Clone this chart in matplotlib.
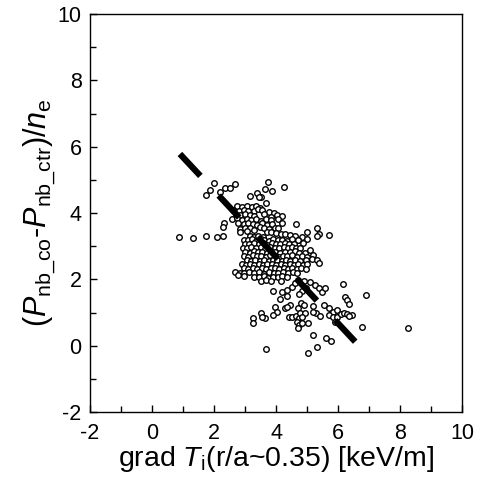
import matplotlib
matplotlib.use("Agg")
import matplotlib.pyplot as plt

plt.rcParams["font.family"] = ["Liberation Sans", "DejaVu Sans"]
plt.rcParams["mathtext.fontset"] = "custom"
plt.rcParams["mathtext.rm"] = "Liberation Sans"
plt.rcParams["mathtext.it"] = "Liberation Sans:italic"
plt.rcParams["axes.unicode_minus"] = False

# sparse points, upper part of the cloud
upper_x = [1.74, 1.87, 2.01, 2.19, 2.35, 2.52, 2.66, 3.16, 3.38, 3.51, 3.65, 3.75, 3.86, 4.24,
           0.87, 1.33, 1.73, 2.09, 2.28, 2.33, 2.30, 3.68, 3.45]
upper_y = [4.54, 4.69, 4.91, 4.64, 4.76, 4.76, 4.87, 4.51, 4.59, 4.49, 4.71, 4.94, 4.67, 4.79,
           3.29, 3.26, 3.32, 3.29, 3.31, 3.69, 3.57, 4.31, 4.47]

# band along the fit line, y ~ 3.4 - 4.2
band_x = [2.75, 2.90, 3.05, 3.22, 3.35, 3.48,
          2.62, 2.82, 2.96, 3.10, 3.28, 3.42, 3.55, 3.78, 3.92,
          2.70, 2.85, 3.00, 3.15, 3.30, 3.62, 3.85, 4.02, 4.18,
          2.57, 2.73, 2.90, 3.05, 3.20, 3.36, 3.50, 3.68, 3.82, 4.07,
          2.78, 2.95, 3.10, 3.25, 3.40, 3.55, 3.70, 3.88, 4.18, 4.63,
          2.84, 3.00, 3.15, 3.30, 3.48, 3.62, 3.78, 3.95, 4.07, 5.31,
          2.84, 3.05, 3.70, 3.85, 4.00, 4.15, 4.30, 4.99, 4.83, 5.37, 5.33, 5.72]
band_y = [4.20, 4.18, 4.21, 4.17, 4.20, 4.15,
          4.09, 4.06, 4.10, 4.07, 4.05, 4.11, 4.08, 4.04, 4.00,
          3.95, 3.93, 3.97, 3.94, 3.92, 3.96, 3.88, 3.93, 3.91,
          3.82, 3.84, 3.80, 3.83, 3.79, 3.82, 3.76, 3.81, 3.78, 3.81,
          3.70, 3.66, 3.69, 3.67, 3.65, 3.70, 3.64, 3.68, 3.69, 3.66,
          3.52, 3.56, 3.54, 3.50, 3.59, 3.55, 3.52, 3.56, 3.54, 3.54,
          3.44, 3.45, 3.44, 3.42, 3.40, 3.38, 3.36, 3.44, 3.29, 3.37, 3.31, 3.34]

# dense core, y ~ 2.0 - 3.3
core_x = [3.15, 3.30, 3.42, 3.58, 4.45, 4.60, 4.72, 4.99,
          2.95, 3.08, 3.22, 3.36, 3.50, 3.62, 3.76, 3.90, 4.05, 4.20, 4.35, 4.50, 4.72,
          3.00, 3.14, 3.30, 3.44, 3.58, 3.72, 3.86, 4.00, 4.14, 4.30, 4.42, 4.58, 4.88,
          2.92, 3.06, 3.20, 3.35, 3.50, 3.65, 3.80, 3.95, 4.10, 4.25, 4.38, 4.52, 4.65, 4.77,
          3.00, 3.15, 3.28, 3.42, 3.56, 3.70, 3.84, 3.98, 4.12, 4.28, 4.44, 4.60, 4.75, 4.94, 5.10,
          2.95, 3.10, 3.24, 3.38, 3.52, 3.66, 3.80, 3.95, 4.08, 4.22, 4.36, 4.50, 4.66, 4.82, 5.00, 5.20,
          3.05, 3.20, 3.33, 3.48, 3.62, 3.76, 3.90, 4.04, 4.18, 4.32, 4.46, 4.62, 4.78, 4.95, 5.15, 5.31,
          2.90, 3.02, 3.16, 3.30, 3.45, 3.58, 3.72, 3.86, 4.00, 4.15, 4.30, 4.44, 4.58, 4.72, 4.86, 5.00, 5.37,
          2.95, 3.10, 3.25, 3.40, 3.54, 3.68, 3.82, 3.96, 4.10, 4.24, 4.38, 4.52, 4.66, 4.80, 4.95,
          2.68, 2.84, 2.98, 3.14, 3.30, 3.46, 3.62, 3.78, 3.92, 4.06, 4.22, 4.38, 4.54, 4.68,
          2.78, 2.96, 3.30, 3.45, 3.60, 3.74, 3.90, 4.05, 4.20, 4.35,
          3.50, 3.68, 3.85, 4.16, 4.72]
core_y = [3.30, 3.27, 3.32, 3.28, 3.34, 3.30, 3.19, 3.23,
          3.20, 3.18, 3.22, 3.17, 3.21, 3.19, 3.16, 3.22, 3.18, 3.20, 3.17, 3.21, 3.19,
          3.08, 3.06, 3.10, 3.07, 3.09, 3.05, 3.10, 3.08, 3.06, 3.09, 3.07, 3.08, 3.09,
          2.95, 2.93, 2.97, 2.94, 2.96, 2.92, 2.97, 2.95, 2.93, 2.96, 2.94, 2.97, 2.95, 2.93,
          2.82, 2.80, 2.84, 2.81, 2.83, 2.79, 2.84, 2.82, 2.80, 2.83, 2.81, 2.84, 2.80, 2.78, 2.88,
          2.70, 2.68, 2.72, 2.69, 2.71, 2.67, 2.72, 2.70, 2.68, 2.71, 2.69, 2.72, 2.68, 2.70, 2.66, 2.72,
          2.57, 2.55, 2.59, 2.56, 2.58, 2.54, 2.59, 2.57, 2.55, 2.58, 2.56, 2.59, 2.55, 2.57, 2.60, 2.58,
          2.45, 2.43, 2.47, 2.44, 2.46, 2.42, 2.47, 2.45, 2.43, 2.46, 2.44, 2.47, 2.43, 2.45, 2.42, 2.46, 2.48,
          2.33, 2.31, 2.35, 2.32, 2.34, 2.30, 2.35, 2.33, 2.31, 2.34, 2.32, 2.35, 2.31, 2.33, 2.30,
          2.23, 2.20, 2.18, 2.22, 2.19, 2.21, 2.17, 2.22, 2.20, 2.18, 2.21, 2.19, 2.22, 2.18,
          2.12, 2.10, 2.08, 2.06, 2.09, 2.05, 2.08, 2.06, 2.09, 2.07,
          1.96, 1.98, 1.95, 1.96, 1.98]

# sparse points, lower right part
lower_x = [3.91, 4.18, 4.34, 4.50, 4.34, 4.13, 4.29, 4.45, 3.97, 4.02, 3.91,
           3.27, 3.27, 3.52, 3.65, 3.54,
           4.40, 4.50, 4.65, 4.75, 4.68, 4.75, 4.85, 4.72,
           4.34, 4.72, 4.77, 4.94, 4.83, 4.80, 4.90,
           5.04, 5.18, 5.61, 5.76, 5.31, 5.04, 3.67,
           5.20, 5.30, 5.40, 5.53, 5.69, 5.85, 5.95, 5.69, 5.85, 5.95, 5.90,
           6.10, 6.20, 6.30, 6.45, 6.35,
           6.17, 6.90, 6.23, 6.28, 6.36, 6.76, 8.24,
           5.10, 5.26, 5.37, 5.47, 5.58, 5.20,
           4.85, 4.95, 4.75, 4.60, 4.90]
lower_y = [1.65, 1.63, 1.68, 1.78, 1.50, 1.40, 1.14, 1.22, 1.17, 1.02, 0.92,
           0.82, 0.67, 0.99, 0.82, 0.87,
           0.85, 0.85, 0.88, 0.82, 0.72, 0.62, 0.68, 0.52,
           1.17, 1.13, 0.98, 0.98, 0.87, 1.28, 1.22,
           0.67, 0.32, 0.24, 0.14, -0.03, -0.21, -0.10,
           1.20, 1.00, 0.90, 1.23, 1.13, 1.02, 1.07, 0.92, 0.87, 0.87, 0.70,
           0.95, 0.98, 0.95, 0.92, 0.88,
           1.85, 1.53, 1.48, 1.38, 1.26, 0.55, 0.52,
           1.93, 1.83, 1.73, 1.62, 1.73, 1.02,
           1.65, 1.75, 1.55, 1.90, 1.95]

# dashed linear fit
fit_x = [0.90, 6.55]
fit_y = [5.78, 0.12]

grad_ti = upper_x + band_x + core_x + lower_x
p_diff = upper_y + band_y + core_y + lower_y

fig = plt.figure(figsize=(4.81, 4.83), dpi=100)
ax = fig.add_axes([0.187, 0.147, 0.774, 0.824])

ax.scatter(grad_ti, p_diff, s=16, facecolors="white", edgecolors="black",
           linewidths=1.0, zorder=2)
ax.plot(fit_x, fit_y, color="black", lw=4.5, dashes=(4.8, 4.3),
        solid_capstyle="butt", zorder=3)

ax.set_xlim(-2, 10)
ax.set_ylim(-2, 10)
ax.set_xticks(range(-2, 11, 2))
ax.set_yticks(range(-2, 11, 2))
ax.set_xticks(range(-1, 10, 2), minor=True)
ax.set_yticks(range(-1, 10, 2), minor=True)
ax.tick_params(which="both", direction="in", labelsize=15.5, width=1)
ax.tick_params(which="major", length=5)
ax.tick_params(which="minor", length=4)
ax.tick_params(axis="x", pad=8)
ax.tick_params(axis="y", pad=6)
for sp in ax.spines.values():
    sp.set_linewidth(1)

ax.set_xlabel(r"grad $T_{\rm i}$(r/a~0.35) [keV/m]", fontsize=20.5, labelpad=0)
ax.set_ylabel(r"($P_{\rm nb\_co}$-$P_{\rm nb\_ctr}$)/$n_{\rm e}$", fontsize=22,
              labelpad=0)

fig.savefig("out.png", dpi=100)
